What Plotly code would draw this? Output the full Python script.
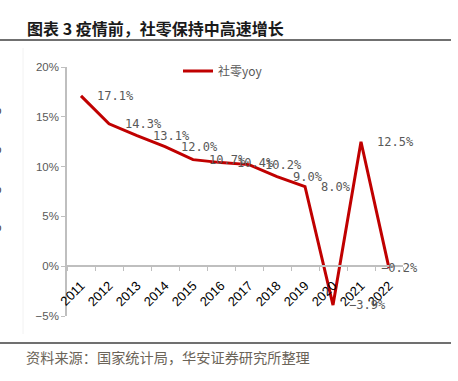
import plotly.graph_objects as go

years = ["2011", "2012", "2013", "2014", "2015", "2016", "2017", "2018", "2019", "2020", "2021", "2022"]
retail_yoy = [17.1, 14.3, 13.1, 12.0, 10.7, 10.4, 10.2, 9.0, 8.0, -3.9, 12.5, -0.2]
y_ticks = [-5, 0, 5, 10, 15, 20]
y_tick_labels = ["−5%", "0%", "5%", "10%", "15%", "20%"]

title_text = "图表 3 疫情前，社零保持中高速增长"
source_text = "资料来源：国家统计局，华安证券研究所整理"
series_name = "社零yoy"

W, H = 458, 381
L, R, T, B = 67, 55, 67, 65
pw, ph = W - L - R, H - T - B


def px_x(x):
    return (x - L) / pw


def px_y(y):
    return (H - B - y) / ph


RED = "#C00000"
GREY = "#595959"
AXIS = "#BFBFBF"

fig = go.Figure()
fig.add_trace(go.Scatter(
    x=years, y=retail_yoy, mode="lines", name=series_name,
    line=dict(color=RED, width=3),
))

annotations = []
for i, (yr, v) in enumerate(zip(years, retail_yoy)):
    shift = 14 if yr != "2022" else -10
    annotations.append(dict(
        x=i, y=v, xref="x", yref="y", text=f"{v:.1f}%".replace("-", "−"),
        showarrow=False, xanchor="left", yanchor="middle", xshift=shift,
        font=dict(family="DejaVu Sans Mono", size=12, color=GREY),
    ))

annotations.append(dict(
    x=px_x(25), y=px_y(28), xref="paper", yref="paper", text=f"<b>{title_text}</b>",
    showarrow=False, xanchor="left", yanchor="middle",
    font=dict(family="Noto Sans CJK SC", size=16, color="#1a1a1a"),
))
annotations.append(dict(
    x=px_x(24), y=px_y(357), xref="paper", yref="paper", text=source_text,
    showarrow=False, xanchor="left", yanchor="middle",
    font=dict(family="Noto Sans CJK SC", size=14.2, color="#6b6458"),
))
for yy in [110, 149, 189, 227]:
    annotations.append(dict(
        x=px_x(4), y=px_y(yy), xref="paper", yref="paper", text="5%",
        showarrow=False, xanchor="right", yanchor="middle",
        font=dict(family="Liberation Sans", size=12, color="#222222"),
    ))

shapes = [
    dict(type="line", xref="paper", yref="paper", x0=px_x(0), x1=px_x(451),
         y0=px_y(40), y1=px_y(40), line=dict(color="#404040", width=1.5)),
    dict(type="line", xref="paper", yref="paper", x0=px_x(0), x1=px_x(451),
         y0=px_y(343), y1=px_y(343), line=dict(color="#404040", width=1.5)),
    dict(type="line", xref="paper", yref="paper", x0=px_x(23), x1=px_x(23),
         y0=px_y(48), y1=px_y(334), line=dict(color="#F2F2F2", width=1)),
]

fig.update_layout(
    width=W, height=H,
    margin=dict(l=L, r=R, t=T, b=B, autoexpand=False),
    paper_bgcolor="white", plot_bgcolor="white",
    showlegend=True,
    legend=dict(x=px_x(178), y=px_y(71), xanchor="left", yanchor="middle",
                bgcolor="rgba(0,0,0,0)",
                font=dict(family="Noto Sans CJK SC", size=12, color=GREY),
                itemwidth=30),
    xaxis=dict(
        type="category", categoryorder="array", categoryarray=years,
        range=[-0.5, 11.5], automargin=False,
        anchor="free", position=5 / 25,
        showline=True, linecolor=AXIS, linewidth=1.5,
        ticks="outside", ticklen=4, tickcolor=AXIS, tickson="boundaries",
        tickangle=-45, showgrid=False, zeroline=False, ticklabelstandoff=6,
        tickfont=dict(family="Liberation Sans", size=13, color="#000000"),
    ),
    yaxis=dict(
        range=[-5, 20], tickvals=y_ticks, ticktext=y_tick_labels, automargin=False,
        showline=True, linecolor=AXIS, linewidth=1.5,
        ticks="outside", ticklen=4, tickcolor=AXIS,
        showgrid=False, zeroline=False,
        tickfont=dict(family="Liberation Sans", size=11.5, color=GREY),
    ),
    annotations=annotations,
    shapes=shapes,
)

fig.write_html(
    "out.html",
    config={"displayModeBar": False},
    post_script="document.body.style.margin='0px';document.body.style.overflow='hidden';",
)
